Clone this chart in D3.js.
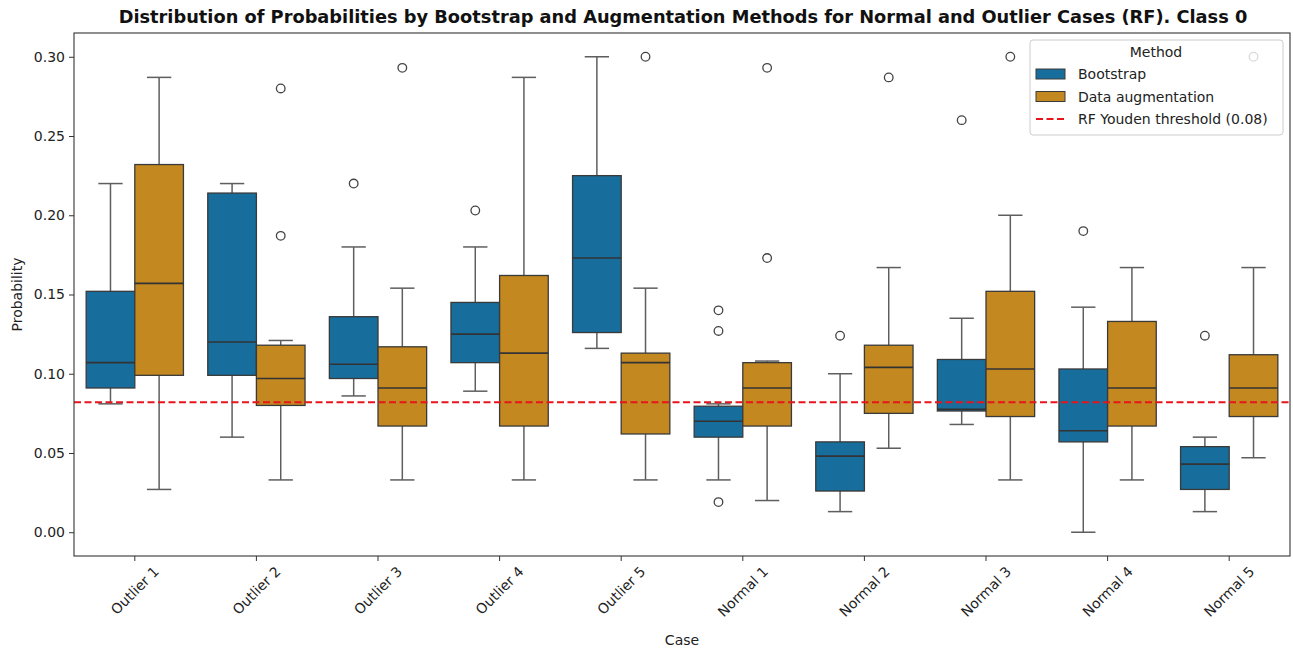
<!DOCTYPE html>
<html>
<head>
<meta charset="utf-8">
<script src="https://cdn.jsdelivr.net/npm/d3@7/dist/d3.min.js"></script>
<style>
  html, body { margin: 0; padding: 0; background: #fff; }
  svg { display: block; font-family: "DejaVu Sans", sans-serif; }
</style>
</head>
<body>
<svg id="chart" width="1293" height="650"></svg>
<script>
// Cases along the x axis
const cases = ["Outlier 1", "Outlier 2", "Outlier 3", "Outlier 4", "Outlier 5",
               "Normal 1", "Normal 2", "Normal 3", "Normal 4", "Normal 5"];
const methods = ["Bootstrap", "Data augmentation"];

// Bootstrap box statistics per case
const bootLow  = [0.081, 0.060, 0.086, 0.089, 0.116, 0.033, 0.013, 0.068, 0.000, 0.013];
const bootQ1   = [0.091, 0.099, 0.097, 0.107, 0.126, 0.060, 0.026, 0.0765, 0.057, 0.027];
const bootMed  = [0.107, 0.120, 0.106, 0.125, 0.173, 0.070, 0.048, 0.0775, 0.064, 0.043];
const bootQ3   = [0.152, 0.214, 0.136, 0.145, 0.225, 0.0795, 0.057, 0.109, 0.103, 0.054];
const bootHigh = [0.220, 0.220, 0.180, 0.180, 0.300, 0.081, 0.100, 0.135, 0.142, 0.060];
const bootOut  = [[], [], [0.220], [0.203], [], [0.140, 0.127, 0.019], [0.124], [0.260], [0.190], [0.124]];

// Data augmentation box statistics per case
const augLow  = [0.027, 0.033, 0.033, 0.033, 0.033, 0.020, 0.053, 0.033, 0.033, 0.047];
const augQ1   = [0.099, 0.080, 0.067, 0.067, 0.062, 0.067, 0.075, 0.073, 0.067, 0.073];
const augMed  = [0.157, 0.097, 0.091, 0.113, 0.107, 0.091, 0.104, 0.103, 0.091, 0.091];
const augQ3   = [0.232, 0.118, 0.117, 0.162, 0.113, 0.107, 0.118, 0.152, 0.133, 0.112];
const augHigh = [0.287, 0.121, 0.154, 0.287, 0.154, 0.108, 0.167, 0.200, 0.167, 0.167];
const augOut  = [[], [0.280, 0.187], [0.293], [], [0.300], [0.293, 0.173], [0.287], [0.300], [], [0.300]];

// Youden threshold for the RF model
const threshold = 0.082;
const thresholdLabel = "RF Youden threshold (0.08)";

const yTicks = [0, 0.05, 0.10, 0.15, 0.20, 0.25, 0.30];

const colors = ["#176d9c", "#c38820"];
const whiskerColor = "#5e5e5e";
const edgeColor = "#3a3a3a";
const red = "#e8141c";

const svg = d3.select("#chart");
const plot = { left: 74, right: 1290, top: 33, bottom: 556 };

const x = d3.scaleBand().domain(cases).range([plot.left, plot.right]).padding(0);
const y = d3.scaleLinear().domain([-0.015, 0.315]).range([plot.bottom, plot.top]);

const bw = x.bandwidth();
const boxW = bw * 0.4;
const capW = boxW * 0.5;

// One record per box
const series = [
  { low: bootLow, q1: bootQ1, med: bootMed, q3: bootQ3, high: bootHigh, out: bootOut },
  { low: augLow, q1: augQ1, med: augMed, q3: augQ3, high: augHigh, out: augOut }
];
const boxes = [];
series.forEach((s, m) => {
  cases.forEach((c, i) => {
    boxes.push({
      c, m,
      cx: x(c) + bw / 2 + (m === 0 ? -0.2 : 0.2) * bw,
      low: s.low[i], q1: s.q1[i], med: s.med[i], q3: s.q3[i], high: s.high[i], out: s.out[i]
    });
  });
});

// Axes
const yAxis = d3.axisLeft(y).tickValues(yTicks).tickFormat(d3.format(".2f")).tickSize(5).tickPadding(4);
const gy = svg.append("g").attr("transform", `translate(${plot.left},0)`).call(yAxis);
gy.select(".domain").remove();
gy.selectAll("text").attr("font-size", 14).attr("fill", "#222").attr("font-family", "DejaVu Sans");
gy.selectAll("line").attr("stroke", "#333");

const xAxis = d3.axisBottom(x).tickSize(5).tickFormat("");
const gx = svg.append("g").attr("transform", `translate(0,${plot.bottom})`).call(xAxis);
gx.select(".domain").remove();
gx.selectAll("line").attr("stroke", "#333");

// Rotated category labels, centred under each tick
cases.forEach(c => {
  const t = svg.append("text")
    .attr("font-size", 14).attr("fill", "#222")
    .attr("text-anchor", "middle")
    .attr("dominant-baseline", "central")
    .text(c);
  const len = t.node().getComputedTextLength();
  const half = (len + 14) * Math.SQRT1_2 / 2;
  t.attr("transform", `translate(${x(c) + bw / 2},${plot.bottom + 8 + half}) rotate(-45)`);
});

// Whiskers
const g = svg.append("g");
g.selectAll(null).data(boxes).join("line")
  .attr("x1", d => d.cx).attr("x2", d => d.cx)
  .attr("y1", d => y(d.q1)).attr("y2", d => y(d.low))
  .attr("stroke", whiskerColor).attr("stroke-width", 1.5);
g.selectAll(null).data(boxes).join("line")
  .attr("x1", d => d.cx).attr("x2", d => d.cx)
  .attr("y1", d => y(d.q3)).attr("y2", d => y(d.high))
  .attr("stroke", whiskerColor).attr("stroke-width", 1.5);
// Caps
["low", "high"].forEach(k => {
  g.selectAll(null).data(boxes).join("line")
    .attr("x1", d => d.cx - capW / 2).attr("x2", d => d.cx + capW / 2)
    .attr("y1", d => y(d[k])).attr("y2", d => y(d[k]))
    .attr("stroke", whiskerColor).attr("stroke-width", 1.5);
});
// Boxes
g.selectAll(null).data(boxes).join("rect")
  .attr("x", d => d.cx - boxW / 2).attr("width", boxW)
  .attr("y", d => y(d.q3)).attr("height", d => y(d.q1) - y(d.q3))
  .attr("fill", d => colors[d.m]).attr("stroke", edgeColor).attr("stroke-width", 1.3);
// Medians
g.selectAll(null).data(boxes).join("line")
  .attr("x1", d => d.cx - boxW / 2).attr("x2", d => d.cx + boxW / 2)
  .attr("y1", d => y(d.med)).attr("y2", d => y(d.med))
  .attr("stroke", "#333").attr("stroke-width", 1.6);
// Fliers
const fliers = boxes.flatMap(d => d.out.map(v => ({ cx: d.cx, v })));
g.selectAll(null).data(fliers).join("circle")
  .attr("cx", d => d.cx).attr("cy", d => y(d.v)).attr("r", 4.3)
  .attr("fill", "none").attr("stroke", "#444").attr("stroke-width", 1.3);

// Threshold line
svg.append("line")
  .attr("x1", plot.left).attr("x2", plot.right)
  .attr("y1", y(threshold)).attr("y2", y(threshold))
  .attr("stroke", red).attr("stroke-width", 2).attr("stroke-dasharray", "7,3.5");

// Frame
svg.append("rect")
  .attr("x", plot.left).attr("y", plot.top)
  .attr("width", plot.right - plot.left).attr("height", plot.bottom - plot.top)
  .attr("fill", "none").attr("stroke", "#333").attr("stroke-width", 1.1);

// Title and axis labels
svg.append("text").attr("x", 683).attr("y", 23)
  .attr("text-anchor", "middle").attr("font-size", 17.8).attr("font-weight", "bold").attr("fill", "#111")
  .text("Distribution of Probabilities by Bootstrap and Augmentation Methods for Normal and Outlier Cases (RF). Class 0");
svg.append("text").attr("transform", `translate(22,${(plot.top + plot.bottom) / 2}) rotate(-90)`)
  .attr("text-anchor", "middle").attr("font-size", 14).attr("fill", "#222").text("Probability");
svg.append("text").attr("x", (plot.left + plot.right) / 2).attr("y", 645)
  .attr("text-anchor", "middle").attr("font-size", 14).attr("fill", "#222").text("Case");

// Legend
const lg = svg.append("g").attr("transform", "translate(1030,40)");
lg.append("rect").attr("width", 253).attr("height", 95).attr("rx", 3)
  .attr("fill", "#fff").attr("fill-opacity", 0.8).attr("stroke", "#ccc").attr("stroke-width", 1);
lg.append("text").attr("x", 126).attr("y", 17).attr("text-anchor", "middle")
  .attr("font-size", 14).attr("fill", "#222").text("Method");
methods.forEach((mname, i) => {
  const yy = 34 + i * 22.5;
  lg.append("rect").attr("x", 6).attr("y", yy - 5).attr("width", 29).attr("height", 10)
    .attr("fill", colors[i]).attr("stroke", edgeColor).attr("stroke-width", 1);
  lg.append("text").attr("x", 48).attr("y", yy).attr("dominant-baseline", "central")
    .attr("font-size", 14).attr("fill", "#222").text(mname);
});
const ty = 34 + 2 * 22.5;
lg.append("line").attr("x1", 6).attr("x2", 35).attr("y1", ty).attr("y2", ty)
  .attr("stroke", red).attr("stroke-width", 2).attr("stroke-dasharray", "7,3.5");
lg.append("text").attr("x", 48).attr("y", ty).attr("dominant-baseline", "central")
  .attr("font-size", 14).attr("fill", "#222").text(thresholdLabel);
</script>
</body>
</html>
